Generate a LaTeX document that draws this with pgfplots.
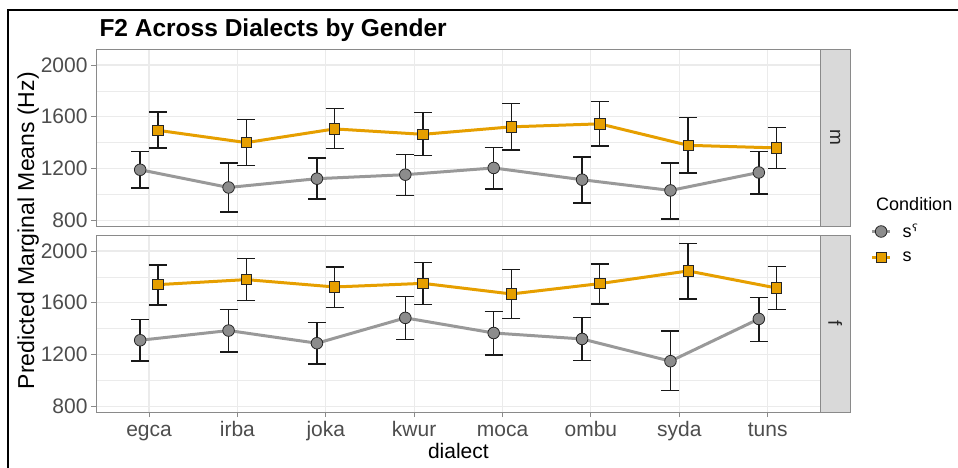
\documentclass[border=0pt]{standalone}
\usepackage{fontspec}
\setmainfont{Liberation Sans}
\newfontfamily\djv{DejaVu Sans}
\usepackage{pgfplots}
\pgfplotsset{compat=1.18}
\usepackage{pgfplotstable}

\definecolor{orng}{HTML}{E69F00}
\definecolor{lgrey}{HTML}{999999}
\definecolor{ptgrey}{HTML}{8C8C8C}
\definecolor{gridc}{HTML}{EBEBEB}
\definecolor{bord}{HTML}{8A8A8A}
\definecolor{stripc}{HTML}{D9D9D9}
\definecolor{tickc}{HTML}{4D4D4D}

% m panel
\pgfplotstableread{
x y lo hi
1 1190 1048 1332
2 1053 864 1242
3 1121 963 1281
4 1152 991 1307
5 1204 1041 1361
6 1113 934 1289
7 1030 810 1242
8 1169 1002 1332
}\mPh
\pgfplotstableread{
x y lo hi
1 1495 1359 1638
2 1400 1221 1578
3 1506 1356 1662
4 1464 1299 1631
5 1522 1343 1703
6 1545 1374 1716
7 1379 1165 1594
8 1359 1200 1519
}\mPl
% f panel
\pgfplotstableread{
x y lo hi
1 1310 1148 1470
2 1385 1220 1547
3 1287 1125 1449
4 1483 1318 1650
5 1366 1197 1534
6 1320 1155 1485
7 1148 921 1380
8 1475 1300 1640
}\fPh
\pgfplotstableread{
x y lo hi
1 1740 1583 1892
2 1779 1616 1941
3 1722 1563 1876
4 1750 1586 1910
5 1668 1478 1856
6 1748 1590 1900
7 1846 1629 2060
8 1714 1550 1880
}\fPl

\pgfplotsset{
 panel/.style={
  scale only axis, width=724.7bp, height=177bp,
  xmin=0.4, xmax=8.6, ymin=755, ymax=2124,
  xtick={1,...,8}, ytick={800,1200,1600,2000}, minor ytick={1000,1400,1800},
  grid=both,
  major grid style={gridc, line width=1.1bp},
  minor grid style={gridc, line width=0.55bp},
  axis line style={bord, line width=1bp},
  tick style={bord, line width=1bp},
  tick align=outside, major tick length=5bp, minor tick length=0bp,
  tick pos=left,
  /pgf/number format/.cd, 1000 sep={}, assume math mode=true, /pgfplots/.cd,
  yticklabel style={font=\fontsize{21bp}{25bp}\selectfont, color=tickc},
  xticklabel style={font=\fontsize{21bp}{25bp}\selectfont, color=tickc, text height=15bp, text depth=4bp, yshift=-1bp},
  legend image code/.code={\draw[mark repeat=2,mark phase=2,##1] plot coordinates {(0bp,0bp) (9bp,0bp) (18bp,0bp)};},
 },
 phline/.style={lgrey, line width=3bp, mark=*, mark size=5.8bp, mark options={fill=ptgrey, draw=black!85, line width=0.8bp}},
 plline/.style={orng, line width=3bp, mark=square*, mark size=5.2bp, mark options={fill=orng, draw=black!85, line width=0.8bp}},
 ebar/.style={draw=none, mark=none, forget plot,
   error bars/.cd, y dir=both, y explicit,
   error bar style={draw=black!90, line width=1.4bp},
   error mark options={rotate=90, draw=black!90, line width=1.4bp, mark size=9bp}},
}

\begin{document}
\begin{tikzpicture}
\useasboundingbox (0,0) rectangle (958bp,-468bp);
\draw[black, line width=2bp] (8bp,-468bp) -- (8bp,-10bp) -- (958bp,-10bp);

\begin{axis}[panel, at={(96bp,-49bp)}, anchor=north west, xmajorticks=false,
  legend style={at={(1.0645,0.035)}, anchor=north west, draw=none, fill=none,
    font=\fontsize{18bp}{21bp}\selectfont, row sep=9bp, cells={anchor=west},
    /tikz/every odd column/.append style={column sep=9bp}}]
\addplot[phline] table[x expr=\thisrow{x}-0.1, y=y] {\mPh};
\addlegendentry{s{\djv ˤ}}
\addplot[plline] table[x expr=\thisrow{x}+0.1, y=y] {\mPl};
\addlegendentry{s}
\addplot[ebar] table[x expr=\thisrow{x}-0.1, y=y, y error plus expr=\thisrow{hi}-\thisrow{y}, y error minus expr=\thisrow{y}-\thisrow{lo}] {\mPh};
\addplot[ebar] table[x expr=\thisrow{x}+0.1, y=y, y error plus expr=\thisrow{hi}-\thisrow{y}, y error minus expr=\thisrow{y}-\thisrow{lo}] {\mPl};
\end{axis}

\begin{axis}[panel, at={(96bp,-235bp)}, anchor=north west,
  xticklabels={egca,irba,joka,kwur,moca,ombu,syda,tuns}]
\addplot[phline] table[x expr=\thisrow{x}-0.1, y=y] {\fPh};
\addplot[plline] table[x expr=\thisrow{x}+0.1, y=y] {\fPl};
\addplot[ebar] table[x expr=\thisrow{x}-0.1, y=y, y error plus expr=\thisrow{hi}-\thisrow{y}, y error minus expr=\thisrow{y}-\thisrow{lo}] {\fPh};
\addplot[ebar] table[x expr=\thisrow{x}+0.1, y=y, y error plus expr=\thisrow{hi}-\thisrow{y}, y error minus expr=\thisrow{y}-\thisrow{lo}] {\fPl};
\end{axis}

% strips
\filldraw[fill=stripc, draw=bord, line width=1bp] (820.7bp,-49bp) rectangle (850bp,-226bp);
\filldraw[fill=stripc, draw=bord, line width=1bp] (820.7bp,-235bp) rectangle (850bp,-412bp);
\node[rotate=-90, font=\fontsize{19bp}{22bp}\selectfont, text=black!85] at (835.3bp,-137.5bp) {m};
\node[rotate=-90, font=\fontsize{19bp}{22bp}\selectfont, text=black!85] at (835.3bp,-323.5bp) {f};

% titles
\node[anchor=base west, font=\bfseries\fontsize{24.5bp}{28bp}\selectfont] at (96bp,-36.5bp) {F2 Across Dialects by Gender};
\node[anchor=base, font=\fontsize{21bp}{25bp}\selectfont] at (458.4bp,-458bp) {dialect};
\node[rotate=90, anchor=base, font=\fontsize{23bp}{27bp}\selectfont] at (34bp,-230.7bp) {Predicted Marginal Means (Hz)};
\node[anchor=base west, font=\fontsize{18bp}{21bp}\selectfont] at (872.7bp,-210.7bp) {Condition};
\end{tikzpicture}
\end{document}
